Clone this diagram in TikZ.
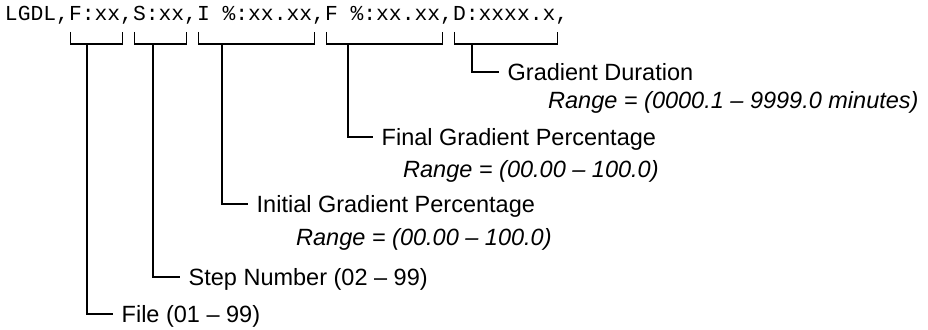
\documentclass[tikz,border=0pt]{standalone}
\usepackage{fontspec}
\setmainfont{Liberation Sans}
\newfontfamily\codefont{Liberation Mono}
\usetikzlibrary{calc}
\tikzset{
 code/.style={font=\codefont\fontsize{21.33}{24}\selectfont, inner sep=0pt, outer sep=0pt, anchor=base west},
 title/.style={font=\fontsize{23.5}{28}\selectfont, inner xsep=8.5pt, inner ysep=0pt, text height=16.8pt, text depth=0pt, anchor=west},
 rng/.style={font=\itshape\fontsize{23.5}{28}\selectfont, inner sep=0pt, anchor=base west},
 wire/.style={line width=1.2pt, black},
}
\begin{document}
\begin{tikzpicture}[x=1pt,y=-1pt]
\useasboundingbox (0,0) rectangle (928,329);
\node[code] (p0) at (5,21) {LGDL,};
\node[code] (fF) at (p0.base east) {F:xx};
\node[code] (c1) at (fF.base east) {,};
\node[code] (fS) at (c1.base east) {S:xx};
\node[code] (c2) at (fS.base east) {,};
\node[code] (fI) at (c2.base east) {I \%:xx.xx};
\node[code] (c3) at (fI.base east) {,};
\node[code] (fP) at (c3.base east) {F \%:xx.xx};
\node[code] (c4) at (fP.base east) {,};
\node[code] (fD) at (c4.base east) {D:xxxx.x};
\node[code] (c5) at (fD.base east) {,};
\coordinate (bt) at (0,32);
\coordinate (bb) at (0,44);
\foreach \f in {fF,fS,fI,fP,fD}{
  \draw[wire] ($(\f.west |- bt)+(1.5,0)$) -- ($(\f.west |- bb)+(1.5,0)$) -- ($(\f.east |- bb)+(2,0)$) -- ($(\f.east |- bt)+(2,0)$);
}
\coordinate (sF) at ($(fF.west |- bb)+(18,0)$);
\coordinate (sS) at ($(fS.west |- bb)+(20,0)$);
\coordinate (sI) at ($(fI.west |- bb)+(25,0)$);
\coordinate (sP) at ($(fP.west |- bb)+(23,0)$);
\coordinate (sD) at ($(fD.west |- bb)+(19,0)$);
\node[title] (lD) at (499,72) {Gradient Duration};
\node[rng] (rD) at (548,108) {Range = (0000.1 – 9999.0 minutes)};
\node[title] (lP) at (373,137) {Final Gradient Percentage};
\node[rng] (rP) at (403,177) {Range = (00.00 – 100.0)};
\node[title] (lI) at (248,204) {Initial Gradient Percentage};
\node[rng] (rI) at (296,245) {Range = (00.00 – 100.0)};
\node[title] (lS) at (180,277) {Step Number (02 – 99)};
\node[title] (lF) at (113,314) {File (01 – 99)};
\draw[wire] (sD) |- (lD.west);
\draw[wire] (sP) |- (lP.west);
\draw[wire] (sI) |- (lI.west);
\draw[wire] (sS) |- (lS.west);
\draw[wire] (sF) |- (lF.west);
\end{tikzpicture}
\end{document}
